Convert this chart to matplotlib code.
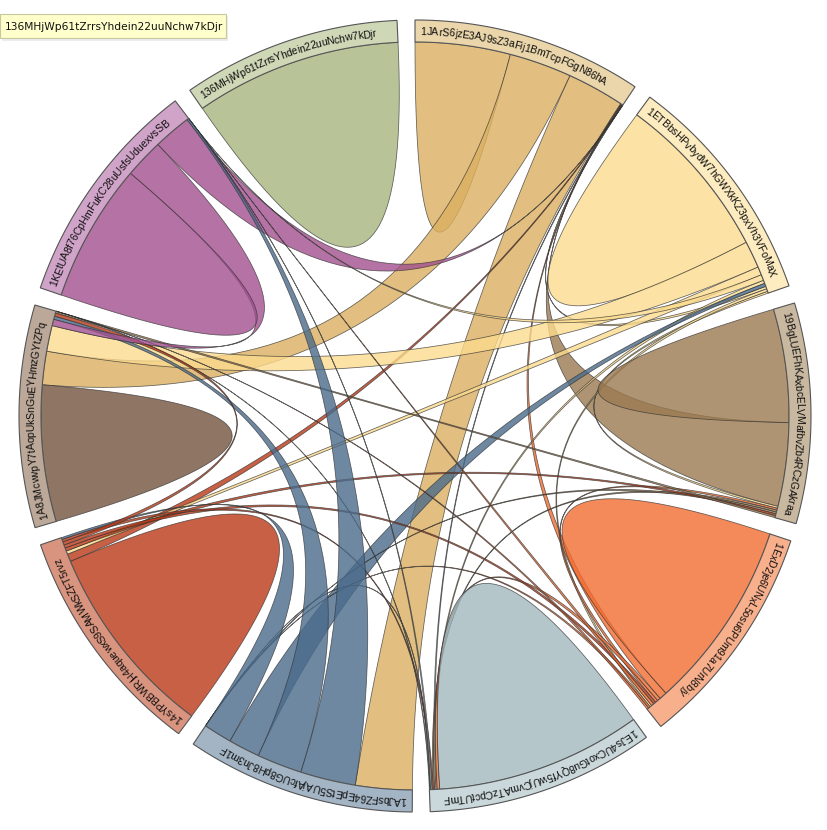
import numpy as np
import matplotlib.pyplot as plt
from matplotlib.patches import Polygon, Rectangle
from matplotlib.colors import to_rgba
from matplotlib.textpath import TextToPath
from matplotlib.font_manager import FontProperties

# wallet addresses, clockwise from 12 o'clock
names = [
    "1JArS6jzE3AJ9sZ3aFij1BmTcpFGgN86hA",
    "1ETBbsHPvbydW7hGWXkKZ3pxVh3VFoMaX",
    "19BgLUEFhKAxbcELVMafbvZb4RCzGAkraa",
    "1ExD2je6UNxL5osu6PUm91a7UrN8bjy",
    "1EJs4UCxotGu8QYf5wUjCvmATzCpctUTmF",
    "1AJbsFZ64EpEtS5UAjAfcUG8pH8Jn3m1F",
    "14sYPBBWRjH4aquewxS9SAMWkSZFT5rvz",
    "1A8JMcwvpY7tAopUkSnGuEYHmzGYtZPq",
    "1KEtUA8f76CpHmFuKC28uUsfsUduexvsSB",
    "136MHjWp61tZrrsYhdein22uuNchw7kDjr",
]
chord_colors = ["#dbb060", "#fcdb8d", "#9a7a50", "#f26d31", "#a1b8bd",
                "#4a6b8b", "#b93815", "#73523d", "#a1508e", "#a6b67e"]
band_colors = ["#ead6aa", "#fdecc0", "#c9b8a0", "#f8af8c", "#cad8db",
               "#a3b4c4", "#d99480", "#bba898", "#d0a3c8", "#ced7b6"]
tooltip_text = names[9]

# flow matrix: row i = amounts leaving group i towards group j
matrix = [
    # 0     1     2     3     4     5     6     7     8     9
    [14.8, 0.0,  0.1,  0.1,  0.1,  8.9,  0.1,  9.7,  0.0,  0.0],   # 0
    [0.4,  26.0, 0.3,  0.4,  0.5,  0.5,  1.3,  4.2,  0.9,  0.0],   # 1
    [13.0, 0.3,  17.6, 0.3,  0.3,  0.3,  0.3,  0.3,  0.0,  0.0],   # 2
    [1.2,  0.3,  0.4,  29.5, 0.5,  0.3,  0.4,  0.3,  0.4,  0.0],   # 3
    [0.2,  0.2,  0.2,  0.4,  32.0, 0.1,  0.2,  0.1,  0.2,  0.0],   # 4
    [8.8,  4.9,  0.0,  0.0,  0.0,  0.0,  4.4,  7.0,  8.6,  0.0],   # 5
    [1.2,  0.5,  0.5,  0.5,  0.4,  0.3,  30.5, 0.5,  0.0,  0.0],   # 6
    [5.2,  4.0,  0.3,  0.0,  0.0,  0.5,  0.5,  21.2, 1.0,  0.0],   # 7
    [5.9,  0.0,  0.0,  0.0,  0.0,  0.3,  0.0,  6.1,  21.6, 0.0],   # 8
    [0.0,  0.0,  0.0,  0.0,  0.0,  0.0,  0.0,  0.0,  0.0,  32.1],  # 9
]

cx, cy = 415, 416
r_in, r_out = 374, 396
pad_deg = 2.6


def pt(theta, r):
    t = np.radians(theta)
    return np.array([cx + r * np.sin(t), cy - r * np.cos(t)])


def arc(a0, a1, r):
    n = max(2, int(abs(a1 - a0) * 3) + 2)
    ts = np.radians(np.linspace(a0, a1, n))
    return np.column_stack([cx + r * np.sin(ts), cy - r * np.cos(ts)])


def quad(p0, p2):
    c = np.array([cx, cy])
    t = np.linspace(0, 1, 50)[:, None]
    return (1 - t) ** 2 * p0 + 2 * (1 - t) * t * c + t ** 2 * p2


# chord layout, subgroups sorted descending inside each group
m = np.array(matrix, dtype=float)
n = len(names)
k = (360 - pad_deg * n) / m.sum()
groups = []
sub = {}
x = 0.0
for i in range(n):
    x0 = x
    order = sorted(range(n), key=lambda j: (-m[i][j], j))
    for j in order:
        sub[(i, j)] = (x, x + m[i][j] * k)
        x += m[i][j] * k
    groups.append((x0, x))
    x += pad_deg

fig = plt.figure(figsize=(8.28, 8.30), dpi=100)
ax = fig.add_axes([0, 0, 1, 1])
ax.set_xlim(0, 828)
ax.set_ylim(830, 0)
ax.axis("off")

# chords (coloured by the end with the larger flow)
for i in range(n):
    for j in range(i, n):
        if m[i][j] <= 0 and m[j][i] <= 0:
            continue
        s, t = (i, j) if m[i][j] >= m[j][i] else (j, i)
        s0, s1 = sub[(s, t)]
        t0, t1 = sub[(t, s)]
        pts = [arc(s0, s1, r_in)]
        if s == t:
            pts.append(quad(pt(s1, r_in), pt(s0, r_in)))
        else:
            pts.append(quad(pt(s1, r_in), pt(t0, r_in)))
            pts.append(arc(t0, t1, r_in))
            pts.append(quad(pt(t1, r_in), pt(s0, r_in)))
        ax.add_patch(Polygon(np.vstack(pts), closed=True,
                             facecolor=to_rgba(chord_colors[s], 0.8),
                             edgecolor=(0.2, 0.2, 0.2, 0.75), linewidth=0.55))

# group bands
for i, (a0, a1) in enumerate(groups):
    ring = np.vstack([arc(a0, a1, r_out), arc(a1, a0, r_in)])
    ax.add_patch(Polygon(ring, closed=True, facecolor=band_colors[i],
                         edgecolor="#555555", linewidth=0.8))

# curved labels
prop = FontProperties(family="Liberation Sans", size=7.6)
ttp = TextToPath()
r_path = r_out
r_base = r_out - 15
for i, (a0, a1) in enumerate(groups):
    dist = 6.0
    for ch in names[i]:
        w, h, d = ttp.get_text_width_height_descent(ch, prop, ismath=False)
        w = w * 100 / 72
        th = a0 + np.degrees((dist + w / 2) / r_path)
        p = pt(th, r_base)
        ax.text(p[0], p[1], ch, fontproperties=prop, rotation=-th,
                rotation_mode="anchor", ha="center", va="baseline",
                color="#111111")
        dist += w

# tooltip
ax.add_patch(Rectangle((2, 16), 226, 25, facecolor="#000000", alpha=0.07,
                       edgecolor="none"))
ax.add_patch(Rectangle((0, 14), 226, 24, facecolor="#ffffcc",
                       edgecolor="#c8c8a0", linewidth=0.8))
ax.text(5, 26.5, tooltip_text, fontsize=7.7, family="DejaVu Sans",
        va="center", ha="left", color="#111111")

fig.savefig("out.png", dpi=100)
